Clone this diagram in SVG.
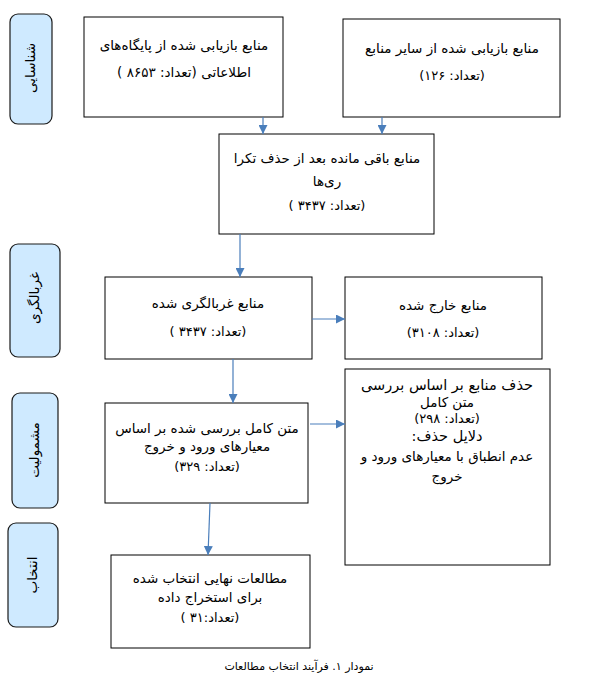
<svg xmlns="http://www.w3.org/2000/svg" width="597" height="683" viewBox="0 0 597 683">
<style>
.box{fill:#fff;stroke:#000;stroke-width:1}
.pill{fill:#cfeaff;stroke:#1a1a1a;stroke-width:1.2}
.conn{stroke:#4a7ebb;stroke-width:1.2;fill:none;marker-end:url(#ah)}
text{font-family:'DejaVu Sans',sans-serif;font-size:13.5px;text-anchor:middle;direction:rtl;fill:#000}
.sm{font-size:13px}
.lg{font-size:14.5px}
.cap{font-size:11px}
</style>
<defs>
<marker id="ah" viewBox="0 0 10 10" refX="10" refY="5" markerWidth="9" markerHeight="9" markerUnits="userSpaceOnUse" orient="auto">
<path d="M0,0 L10,5 L0,10 z" fill="#4a7ebb"/>
</marker>
</defs>
<rect width="597" height="683" fill="#fff"/>
<g id="stage1"><rect class="pill" x="10" y="14" width="42" height="110" rx="8"/><text transform="translate(31,68) rotate(-90)" y="4">شناسایی</text></g>
<g id="stage2"><rect class="pill" x="10" y="244" width="50" height="113" rx="8"/><text transform="translate(35,298) rotate(-90)" y="4">غربالگری</text></g>
<g id="stage3"><rect class="pill" x="12" y="393" width="46" height="115" rx="8"/><text transform="translate(35,450) rotate(-90)" y="4">مشمولیت</text></g>
<g id="stage4"><rect class="pill" x="8" y="523" width="50" height="104" rx="8"/><text transform="translate(33,575) rotate(-90)" y="4">انتخاب</text></g>
<g id="boxA"><rect class="box" x="84" y="17" width="199" height="100"/><text x="184" y="50">منابع بازیابی شده از پایگاه‌های</text><text x="184" y="77">اطلاعاتی (تعداد: ۸۶۵۳ )</text></g>
<g id="boxB"><rect class="box" x="343" y="19" width="217" height="98"/><text x="452" y="53">منابع بازیابی شده از سایر منابع</text><text x="452" y="80" class="sm">(تعداد: ۱۲۶)</text></g>
<g id="boxC"><rect class="box" x="219" y="134" width="215" height="100"/><text x="327" y="163">منابع باقی مانده بعد از حذف تکرا</text><text x="327" y="186">ری‌ها</text><text x="327" y="210" class="sm">(تعداد: ۳۴۳۷ )</text></g>
<g id="boxD"><rect class="box" x="105" y="277" width="207" height="82"/><text x="208" y="308">منابع غربالگری شده</text><text x="208" y="336" class="sm">(تعداد: ۳۴۳۷ )</text></g>
<g id="boxE"><rect class="box" x="345" y="277" width="197" height="82"/><text x="443" y="310">منابع خارج شده</text><text x="443" y="337" class="sm">(تعداد: ۳۱۰۸)</text></g>
<g id="boxF"><rect class="box" x="105" y="403" width="203" height="100"/><text x="207" y="433">متن کامل بررسی شده بر اساس</text><text x="207" y="451">معیارهای ورود و خروج</text><text x="207" y="471" class="sm">(تعداد: ۳۲۹)</text></g>
<g id="boxG"><rect class="box" x="345" y="369" width="205" height="196"/><text x="447" y="390" class="lg">حذف منابع بر اساس بررسی</text><text x="447" y="407">متن کامل</text><text x="447" y="423" class="sm">(تعداد: ۲۹۸)</text><text x="447" y="441" class="lg">دلایل حذف:</text><text x="447" y="461">عدم انطباق با معیارهای ورود و</text><text x="447" y="481">خروج</text></g>
<g id="boxH"><rect class="box" x="111" y="555" width="199" height="93"/><text x="210" y="583">مطالعات نهایی انتخاب شده</text><text x="210" y="602">برای استخراج داده</text><text x="210" y="622" class="sm">(تعداد:۳۱ )</text></g>
<g id="connectors">
<line class="conn" x1="263" y1="117" x2="263" y2="134"/>
<line class="conn" x1="382" y1="117" x2="382" y2="134"/>
<line class="conn" x1="240" y1="234" x2="240" y2="277"/>
<line class="conn" x1="312" y1="319" x2="345" y2="319"/>
<line class="conn" x1="233" y1="359" x2="233" y2="403"/>
<line class="conn" x1="310" y1="424" x2="345" y2="424"/>
<line class="conn" x1="210" y1="503" x2="208" y2="555"/>
</g>
<text class="cap" x="299" y="670">نمودار ۱. فرآیند انتخاب مطالعات</text>
</svg>
